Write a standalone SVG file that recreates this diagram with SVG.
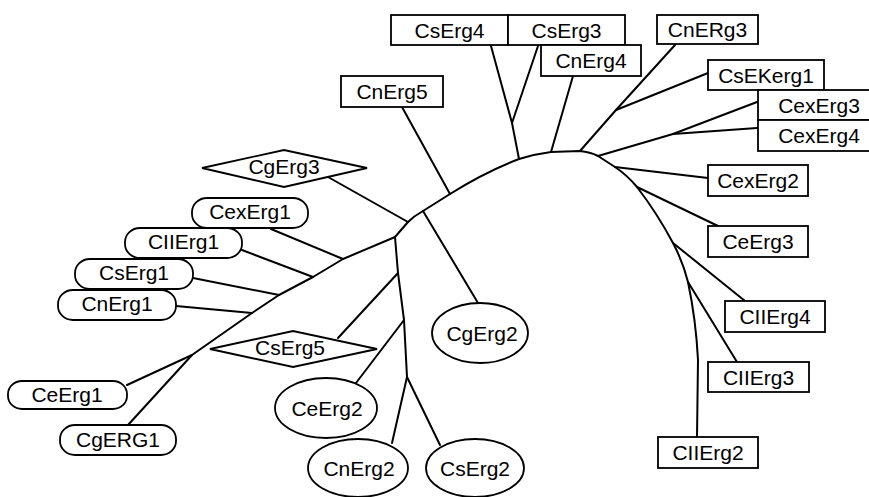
<svg xmlns="http://www.w3.org/2000/svg" width="869" height="497" viewBox="0 0 869 497">
<style>
.n rect, .n ellipse, .n polygon { fill: #fff; stroke: #000; stroke-width: 1.8; }
.n text { font-family: "Liberation Sans", Arial, sans-serif; font-size: 21px; text-anchor: middle; fill: #000; }
#connectors path { fill: none; stroke: #000; stroke-width: 2; stroke-linejoin: round; stroke-linecap: round; }
</style>
<rect width="869" height="497" fill="#fff"/>
<g id="connectors">
  <!-- backbone -->
  <path d="M395,237 L408,222 Q414,216 423,211 L450,194 Q485,172 519,159 Q535,154 551,152 L580,151 Q590,152 598,156 L615,167 Q627,175 637,187 Q657,213 673,243 Q683,262 688,282 Q696,320 698,360 L697,437"/>
  <!-- top branches -->
  <path d="M519,159 L512,123 L491,46"/>
  <path d="M512,123 L538,46"/>
  <path d="M551,152 L573,76"/>
  <path d="M580,151 L616,110 L675,45"/>
  <path d="M616,110 L708,73"/>
  <path d="M598,156 L673,134 L757,102"/>
  <path d="M673,134 L757,128"/>
  <!-- right branches -->
  <path d="M615,167 L708,178"/>
  <path d="M637,187 L718,226"/>
  <path d="M673,243 L745,301"/>
  <path d="M688,282 L737,362"/>
  <!-- left side -->
  <path d="M450,194 L402,107"/>
  <path d="M423,211 L478,303"/>
  <path d="M408,222 L328,177"/>
  <path d="M395,237 L343,259 L313,277 L279,295 L252,313 L192,355 L128,425"/>
  <path d="M192,355 L127,385"/>
  <path d="M343,259 L271,229"/>
  <path d="M313,277 L242,250"/>
  <path d="M279,295 L193,278"/>
  <path d="M252,313 L176,306"/>
  <!-- vertical lower branch -->
  <path d="M395,237 L398,273 L404,320 L407,377"/>
  <path d="M398,273 L338,338"/>
  <path d="M404,320 L356,383"/>
  <path d="M407,377 L392,443"/>
  <path d="M407,377 L440,445"/>
</g>
<g id="CsErg4" class="n"><rect x="391" y="15" width="117" height="30"/><text x="449.5" y="37.5">CsErg4</text></g>
<g id="CsErg3" class="n"><rect x="508" y="15" width="117" height="30"/><text x="566.5" y="37.5">CsErg3</text></g>
<g id="CnErg4" class="n"><rect x="541" y="45" width="100" height="31"/><text x="591" y="68">CnErg4</text></g>
<g id="CnERg3" class="n"><rect x="657" y="15" width="101" height="29"/><text x="707.5" y="37">CnERg3</text></g>
<g id="CsEKerg1" class="n"><rect x="708" y="60" width="116" height="30"/><text x="766" y="82.5">CsEKerg1</text></g>
<g id="CexErg3" class="n"><rect x="758" y="90" width="122" height="30"/><text x="819" y="112.5">CexErg3</text></g>
<g id="CexErg4" class="n"><rect x="758" y="120" width="122" height="31"/><text x="819" y="143">CexErg4</text></g>
<g id="CexErg2" class="n"><rect x="708" y="165" width="100" height="31"/><text x="758" y="188">CexErg2</text></g>
<g id="CeErg3" class="n"><rect x="708" y="226" width="100" height="31"/><text x="758" y="249">CeErg3</text></g>
<g id="CIIErg4" class="n"><rect x="725" y="301" width="100" height="31"/><text x="775" y="324">CIIErg4</text></g>
<g id="CIIErg3" class="n"><rect x="708" y="362" width="101" height="30"/><text x="758.5" y="384.5">CIIErg3</text></g>
<g id="CIIErg2" class="n"><rect x="658" y="437" width="100" height="31"/><text x="708" y="460">CIIErg2</text></g>
<g id="CnErg5" class="n"><rect x="341" y="76" width="102" height="31"/><text x="392" y="99">CnErg5</text></g>
<g id="CgErg3" class="n"><polygon points="202,168 284,150 367,168 284,187"/><text x="284" y="174">CgErg3</text></g>
<g id="CexErg1" class="n"><rect x="192" y="198" width="116" height="30" rx="15" ry="14"/><text x="250" y="219">CexErg1</text></g>
<g id="CIIErg1" class="n"><rect x="125" y="228" width="117" height="30" rx="15" ry="14"/><text x="183.5" y="249">CIIErg1</text></g>
<g id="CsErg1" class="n"><rect x="75" y="259" width="118" height="30" rx="15" ry="14"/><text x="134" y="280">CsErg1</text></g>
<g id="CnErg1" class="n"><rect x="58" y="290" width="118" height="30" rx="15" ry="14"/><text x="117" y="311">CnErg1</text></g>
<g id="CeErg1" class="n"><rect x="8" y="381" width="119" height="28" rx="14" ry="13"/><text x="67" y="401.5">CeErg1</text></g>
<g id="CgERG1" class="n"><rect x="60" y="425" width="116" height="30" rx="15" ry="14"/><text x="118" y="446.5">CgERG1</text></g>
<g id="CsErg5" class="n"><polygon points="210,349 293,331 377,349 293,367"/><text x="290" y="355">CsErg5</text></g>
<g id="CgErg2" class="n"><ellipse cx="480" cy="333" rx="48" ry="30"/><text x="482" y="341">CgErg2</text></g>
<g id="CeErg2" class="n"><ellipse cx="326" cy="408" rx="51" ry="30"/><text x="327" y="416">CeErg2</text></g>
<g id="CnErg2" class="n"><ellipse cx="358" cy="468" rx="50" ry="29"/><text x="359" y="476">CnErg2</text></g>
<g id="CsErg2" class="n"><ellipse cx="475" cy="468" rx="49" ry="29"/><text x="475" y="476">CsErg2</text></g>
</svg>
